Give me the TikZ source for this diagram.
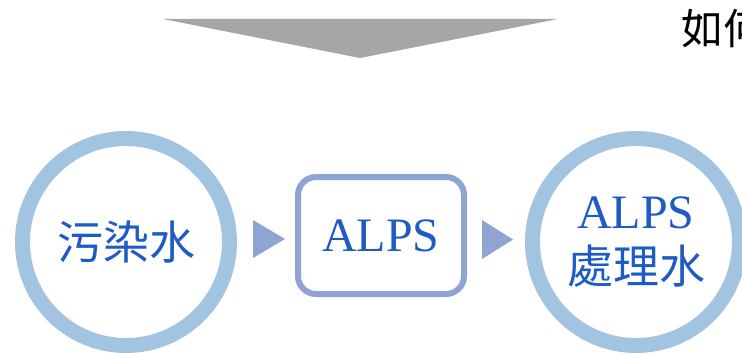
\documentclass[tikz,border=0pt]{standalone}
\usepackage{fontspec}
\setmainfont{Liberation Serif}
\newfontfamily\cjk{Noto Sans CJK TC}
\definecolor{ringblue}{RGB}{163,196,225}
\definecolor{flowblue}{RGB}{143,164,210}
\definecolor{txtblue}{RGB}{30,91,196}
\definecolor{tri}{RGB}{166,166,166}
\tikzset{
  ring/.style={circle, draw=ringblue, line width=15pt, minimum size=207pt, inner sep=0pt, text=txtblue, align=center},
  procbox/.style={draw=flowblue, line width=6pt, rounded corners=18pt, minimum width=166pt, minimum height=117pt, inner sep=0pt, text=txtblue},
  flowarrow/.style={fill=flowblue},
}
\begin{document}
\begin{tikzpicture}[x=1pt,y=-1pt]
\clip (0,0) rectangle (742,353);
\fill[white] (0,0) rectangle (742,353);
% top chevron
\fill[tri] (163,19) -- (558,19) -- (360,58) -- cycle;
% cut-off title
\node[anchor=west, inner sep=0pt, font=\cjk\fontsize{42}{48}\selectfont] (title) at (681,29) {如何};
% nodes
\node[ring, font=\cjk\fontsize{46}{55}\selectfont] (src) at (126,242) {污染水};
\node[procbox, font=\fontsize{48}{55}\selectfont] (alps) at (381,235.5) {ALPS};
\node[ring, font=\fontsize{48}{55}\selectfont] (out) at (636,242) {ALPS\\{\cjk\fontsize{46}{55}\selectfont 處理水}};
% arrows
\fill[flowarrow] (253,220) -- (285,239) -- (253,258) -- cycle;
\fill[flowarrow] (482,220) -- (513,239.5) -- (482,259) -- cycle;
\end{tikzpicture}
\end{document}
